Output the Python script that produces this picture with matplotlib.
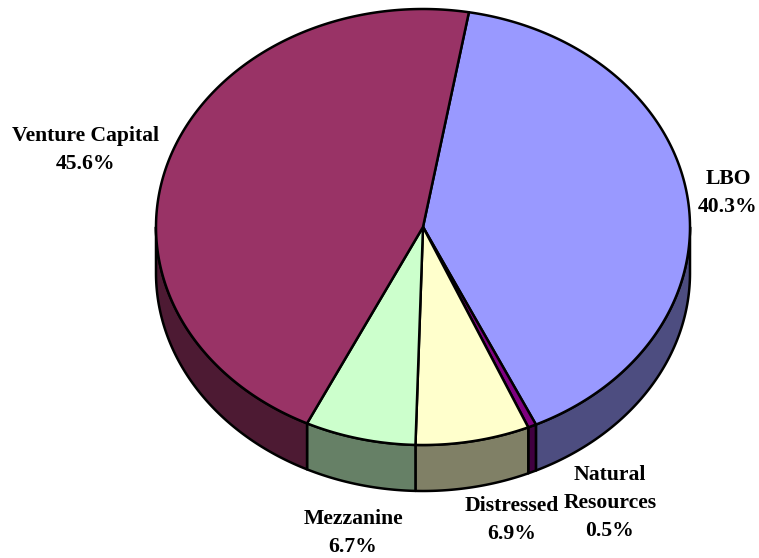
import numpy as np
import matplotlib
matplotlib.use("Agg")
import matplotlib.pyplot as plt
from matplotlib.patches import Polygon

labels = ["LBO", "Natural\nResources", "Distressed", "Mezzanine", "Venture Capital"]
shares = [40.3, 0.5, 6.9, 6.7, 45.6]
top_colors = ["#9999FF", "#800080", "#FFFFCC", "#CCFFCC", "#993366"]
side_colors = ["#4D4D80", "#400040", "#808066", "#668066", "#4D1A33"]
label_pos = [(728, 193), (610, 503), (512, 520), (353, 533), (85, 150)]

cx, cy = 423, 227
rx, ry = 267, 218
depth = 46
start = 9.9


def rim(a0, a1):
    t = np.radians(np.linspace(a0, a1, max(int(a1 - a0) * 2, 2)))
    return np.column_stack([cx + rx * np.sin(t), cy - ry * np.cos(t)])


fig = plt.figure(figsize=(7.59, 5.58), dpi=100)
ax = fig.add_axes([0, 0, 1, 1])
ax.set_xlim(0, 759)
ax.set_ylim(558, 0)
ax.axis("off")

edges = start + np.cumsum([0] + shares) * 3.6

# sides first, only the front half of the cylinder shows
for i in range(len(shares)):
    a0 = max(edges[i], 90)
    a1 = min(edges[i + 1], 270)
    if a1 <= a0:
        continue
    arc = rim(a0, a1)
    pts = np.vstack([arc, (arc + [0, depth])[::-1]])
    ax.add_patch(Polygon(pts, closed=True, fc=side_colors[i], ec="black", lw=1.8, joinstyle="round"))

for i in range(len(shares)):
    pts = np.vstack([[cx, cy], rim(edges[i], edges[i + 1])])
    ax.add_patch(Polygon(pts, closed=True, fc=top_colors[i], ec="black", lw=1.8, joinstyle="round"))

for name, val, (x, y) in zip(labels, shares, label_pos):
    ax.text(x, y, f"{name}\n{val}%", ha="center", va="center", family="Liberation Serif",
            fontweight="bold", fontsize=15.6, linespacing=1.5, color="black")

fig.savefig("out.png", dpi=100)
